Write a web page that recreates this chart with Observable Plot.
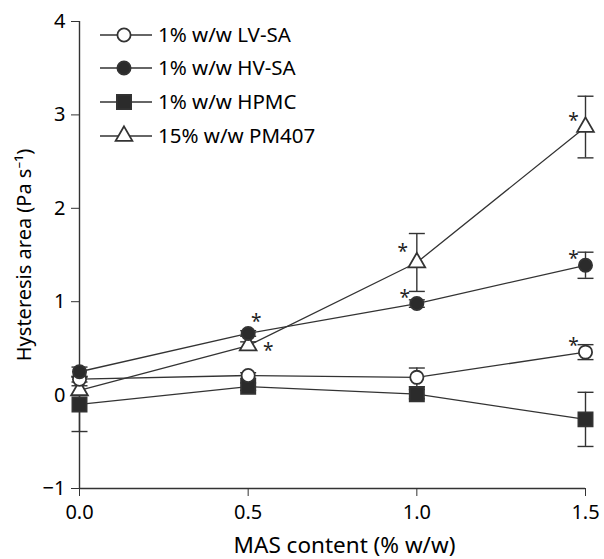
<!DOCTYPE html>
<html>
<head>
<meta charset="utf-8">
<script src="https://cdn.jsdelivr.net/npm/d3@7"></script>
<script src="https://cdn.jsdelivr.net/npm/@observablehq/plot@0.6"></script>
<style>
  html, body { margin: 0; padding: 0; background: #fff; }
  #wrap { position: relative; width: 604px; height: 559px; }
  #wrap svg { font-family: "Noto Sans", sans-serif; }
  #legend { position: absolute; left: 0; top: 0; }
</style>
</head>
<body>
<div id="wrap"></div>
<script>
const masContent = [0.0, 0.5, 1.0, 1.5];
const seriesNames = ["1% w/w LV-SA", "1% w/w HV-SA", "1% w/w HPMC", "15% w/w PM407"];
const lvsaMean = [0.17, 0.21, 0.19, 0.46];
const lvsaSD   = [0.03, 0.03, 0.10, 0.08];
const hvsaMean = [0.25, 0.66, 0.98, 1.39];
const hvsaSD   = [0.05, 0.03, 0.04, 0.14];
const hpmcMean = [-0.10, 0.09, 0.01, -0.26];
const hpmcSD   = [0.29, 0.04, 0.05, 0.29];
const pmMean   = [0.05, 0.53, 1.42, 2.87];
const pmSD     = [0.05, 0.04, 0.31, 0.33];
const xTicks = [0.0, 0.5, 1.0, 1.5];
const yTicks = [-1, 0, 1, 2, 3, 4];
// significance markers: series index, x, placement
const sigMarks = [
  {s: 1, x: 0.5, pos: "ur"},
  {s: 3, x: 0.5, pos: "r"},
  {s: 1, x: 1.0, pos: "ul"},
  {s: 3, x: 1.0, pos: "ul2"},
  {s: 0, x: 1.5, pos: "ul"},
  {s: 1, x: 1.5, pos: "ul"},
  {s: 3, x: 1.5, pos: "ul"}
];

const means = [lvsaMean, hvsaMean, hpmcMean, pmMean];
const sds = [lvsaSD, hvsaSD, hpmcSD, pmSD];
const symbols = ["circle", "circle", "square", "triangle"];
const fills = ["white", "#2b2b2b", "#2b2b2b", "white"];
const radii = {circle: 6.6, square: 8.0, triangle: 6.2};
const ink = "#333";

const data = [];
means.forEach((m, si) => m.forEach((v, i) => data.push({
  series: seriesNames[si], si, x: masContent[i], y: v, lo: v - sds[si][i], hi: v + sds[si][i]
})));
const sig = sigMarks.map(d => {
  const i = masContent.indexOf(d.x);
  return {x: d.x, y: means[d.s][i], pos: d.pos};
});

const capSymbol = { draw(ctx) { ctx.moveTo(-8, 0); ctx.lineTo(8, 0); } };

const marks = [
  Plot.ruleX([0], {y1: -1, y2: 4, stroke: ink, strokeWidth: 1.4}),
  Plot.ruleY([-1], {x1: 0, x2: 1.5, stroke: ink, strokeWidth: 1.4}),
  Plot.axisY({ticks: yTicks, tickSize: 8, tickPadding: 6, fontSize: 20, label: null, stroke: ink, fill: "#000", tickFormat: d3.format("d")}),
  Plot.axisX({ticks: xTicks, tickSize: 8, tickPadding: 8, fontSize: 20, label: null, stroke: ink, fill: "#000", tickFormat: d3.format(".1f")}),
  // error bars
  Plot.ruleX(data, {x: "x", y1: "lo", y2: "hi", stroke: ink, strokeWidth: 1.4}),
  Plot.dot(data, {x: "x", y: "lo", symbol: capSymbol, stroke: ink, strokeWidth: 1.4, fill: "none"}),
  Plot.dot(data, {x: "x", y: "hi", symbol: capSymbol, stroke: ink, strokeWidth: 1.4, fill: "none"})
];
[3, 2, 0, 1].forEach(si => {
  const d = data.filter(r => r.si === si);
  marks.push(Plot.line(d, {x: "x", y: "y", stroke: ink, strokeWidth: 1.3}));
});
[3, 2, 0, 1].forEach(si => {
  const d = data.filter(r => r.si === si);
  marks.push(Plot.dot(d, {x: "x", y: "y", symbol: symbols[si], r: radii[symbols[si]], fill: fills[si], stroke: ink, strokeWidth: 1.8}));
});
const offs = {ur: [8, -12], r: [20, 5], ul: [-12, -6], ul2: [-14, -11]};
Object.entries(offs).forEach(([k, [dx, dy]]) => {
  marks.push(Plot.text(sig.filter(d => d.pos === k), {x: "x", y: "y", text: () => "*", dx, dy, fontSize: 19, fill: "#222"}));
});
marks.push(Plot.text(["Hysteresis area (Pa s⁻¹)"], {frameAnchor: "left", textAnchor: "middle", dx: -55, rotate: -90, fontSize: 20, fill: "#000", lineAnchor: "middle"}));
marks.push(Plot.text(["MAS content (% w/w)"], {frameAnchor: "bottom", textAnchor: "middle", dx: 12, dy: 57, fontSize: 22.5, fill: "#000", lineAnchor: "middle"}));

const chart = Plot.plot({
  width: 604, height: 559,
  marginLeft: 79, marginRight: 19, marginTop: 21, marginBottom: 71,
  x: {domain: [0, 1.5]},
  y: {domain: [-1, 4]},
  style: {fontFamily: "Noto Sans, sans-serif", fontSize: "20px", color: "#000", overflow: "visible"},
  marks
});
document.getElementById("wrap").appendChild(chart);

// legend overlay
const lg = d3.select("#wrap").append("svg").attr("id", "legend").attr("width", 604).attr("height", 559);
const rowsY = [35, 68, 102, 136];
seriesNames.forEach((name, si) => {
  const g = lg.append("g").attr("transform", `translate(0,${rowsY[si]})`);
  g.append("line").attr("x1", 100).attr("x2", 152).attr("y1", 0).attr("y2", 0).attr("stroke", ink).attr("stroke-width", 1.4);
  const sym = {circle: d3.symbolCircle, square: d3.symbolSquare, triangle: d3.symbolTriangle}[symbols[si]];
  const r = radii[symbols[si]];
  g.append("path").attr("transform", "translate(124,0)").attr("d", d3.symbol(sym, r * r * Math.PI)())
    .attr("fill", fills[si]).attr("stroke", ink).attr("stroke-width", 1.8);
  g.append("text").attr("x", 158).attr("y", 0).attr("dy", "0.35em").attr("font-size", 20.5).attr("fill", "#000").text(name);
});
</script>
</body>
</html>
